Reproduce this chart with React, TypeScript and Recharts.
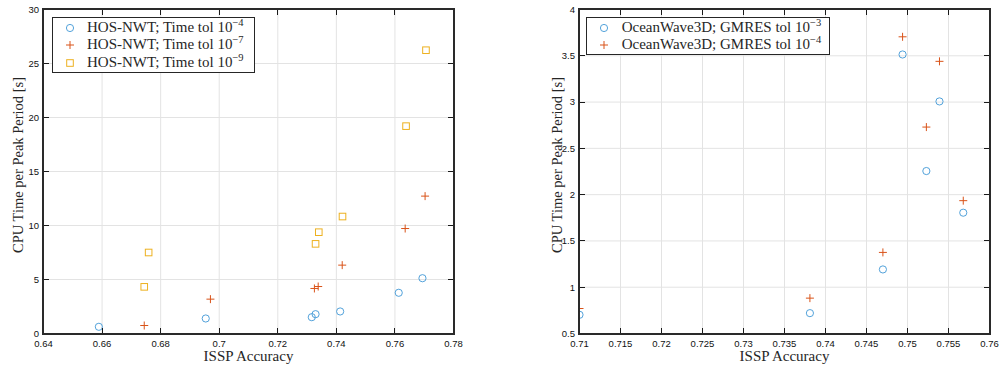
import React from "react";
import { ScatterChart, Scatter, XAxis, YAxis, CartesianGrid, Legend } from "recharts";

// HOS-NWT runs (left panel)
const hosTol4X = [0.6589, 0.6954, 0.7316, 0.7329, 0.7413, 0.7613, 0.7694];
const hosTol4Y = [0.62, 1.39, 1.51, 1.79, 2.04, 3.77, 5.12];
const hosTol7X = [0.6744, 0.697, 0.7325, 0.7338, 0.742, 0.7635, 0.7703];
const hosTol7Y = [0.74, 3.18, 4.17, 4.35, 6.33, 9.72, 12.72];
const hosTol9X = [0.6744, 0.6759, 0.7329, 0.734, 0.7421, 0.7638, 0.7706];
const hosTol9Y = [4.32, 7.5, 8.3, 9.38, 10.83, 19.2, 26.23];

// OceanWave3D runs (right panel)
const owX = [0.71, 0.7381, 0.747, 0.7568, 0.7523, 0.7539, 0.7494];
const owTol3Y = [0.702, 0.72, 1.192, 1.805, 2.255, 3.007, 3.514];
const owTol4Y = [0.77, 0.882, 1.376, 1.935, 2.73, 3.44, 3.705];

const leftXTicks = [0.64, 0.66, 0.68, 0.7, 0.72, 0.74, 0.76, 0.78];
const leftYTicks = [0, 5, 10, 15, 20, 25, 30];
const rightXTicks = [0.71, 0.715, 0.72, 0.725, 0.73, 0.735, 0.74, 0.745, 0.75, 0.755, 0.76];
const rightYTicks = [0.5, 1, 1.5, 2, 2.5, 3, 3.5, 4];

const BLUE = "#3f97d6";
const RED = "#D95319";
const YELLOW = "#EDB120";
const AX = "#262626";
const GRID = "#e3e3e3";
const SERIF = "'Liberation Serif', 'Times New Roman', serif";
const SANS = "'Liberation Sans', Arial, sans-serif";

const PLOT_TOP = 9.5;
const PLOT_BOTTOM = 333.5;

const pts = (xs: number[], ys: number[]) => xs.map((x, i) => ({ x, y: ys[i] }));
const inner = (t: number[]) => t.slice(1, -1);
const fmt = (v: number) => String(Number(v.toFixed(3)));

// markers
const CircleMark = (p: any) => (
  <circle cx={p.cx} cy={p.cy} r={3.6} fill="none" stroke={BLUE} strokeWidth={0.9} />
);
const PlusMark = (p: any) => (
  <g stroke={RED} strokeWidth={1}>
    <line x1={p.cx - 4} y1={p.cy} x2={p.cx + 4} y2={p.cy} />
    <line x1={p.cx} y1={p.cy - 4} x2={p.cx} y2={p.cy + 4} />
  </g>
);
const SquareMark = (p: any) => (
  <rect x={p.cx - 3.3} y={p.cy - 3.3} width={6.6} height={6.6} fill="none" stroke={YELLOW} strokeWidth={1} />
);

const Sup = ({ children }: { children: React.ReactNode }) => (
  <span style={{ fontSize: "0.7em", position: "relative", top: "-0.55em" }}>{children}</span>
);

type LegendItem = { mark: "circle" | "plus" | "square"; text: string; exp: string };

const LegendBox = ({ items, width, height, markX, textX }: { items: LegendItem[]; width: number; height: number; markX: number; textX: number }) => (
  <div
    style={{
      width,
      height,
      boxSizing: "border-box",
      border: `1px solid ${AX}`,
      background: "#fff",
      paddingTop: 0.5,
      fontFamily: SERIF,
      fontSize: 15,
      color: AX,
    }}
  >
    {items.map((it) => (
      <div key={it.text + it.exp} style={{ height: 17.5, position: "relative", whiteSpace: "nowrap" }}>
        <svg width={12} height={12} style={{ position: "absolute", left: markX - 7, top: 3 }}>
          {it.mark === "circle" && <CircleMark cx={6} cy={6} />}
          {it.mark === "plus" && <PlusMark cx={6} cy={6} />}
          {it.mark === "square" && <SquareMark cx={6} cy={6} />}
        </svg>
        <span style={{ position: "absolute", left: textX - 1, lineHeight: "17.5px", top: 0 }}>
          {it.text}
          <Sup>{it.exp}</Sup>
        </span>
      </div>
    ))}
  </div>
);

const leftItems: LegendItem[] = [
  { mark: "circle", text: "HOS-NWT; Time tol 10", exp: "\u22124" },
  { mark: "plus", text: "HOS-NWT; Time tol 10", exp: "\u22127" },
  { mark: "square", text: "HOS-NWT; Time tol 10", exp: "\u22129" },
];
const rightItems: LegendItem[] = [
  { mark: "circle", text: "OceanWave3D; GMRES tol 10", exp: "\u22123" },
  { mark: "plus", text: "OceanWave3D; GMRES tol 10", exp: "\u22124" },
];

const XTick = (p: any) => (
  <text x={p.x} y={347} textAnchor="middle" fill="#111" fontSize={9.5} fontFamily={SANS}>
    {fmt(p.payload.value)}
  </text>
);

const makeYTick = (plotLeft: number) => (p: any) => (
  <text x={plotLeft - 4.5} y={p.y + 3.4} textAnchor="end" fill="#111" fontSize={9.5} fontFamily={SANS}>
    {fmt(p.payload.value)}
  </text>
);

// MATLAB-style box with inward ticks, laid over the plot area
function Frame(props: { plotLeft: number; plotRight: number; xTicks: number[]; yTicks: number[]; xDomain: [number, number]; yDomain: [number, number] }) {
  const L = props.plotLeft - 0.5;
  const R = props.plotRight - 0.5;
  const T = PLOT_TOP - 0.5;
  const B = PLOT_BOTTOM - 0.5;
  const sx = (v: number) => L + ((v - props.xDomain[0]) / (props.xDomain[1] - props.xDomain[0])) * (R - L);
  const sy = (v: number) => B - ((v - props.yDomain[0]) / (props.yDomain[1] - props.yDomain[0])) * (B - T);
  const tick = (left: number, top: number, w: number, h: number, k: string) => (
    <div key={k} style={{ position: "absolute", left, top, width: w, height: h, background: "#1a1a1a" }} />
  );
  return (
    <div style={{ position: "absolute", left: 0, top: 0, width: "100%", height: "100%", pointerEvents: "none", zIndex: 5 }}>
      <div
        style={{
          position: "absolute",
          left: L - 1,
          top: T - 1,
          width: R - L + 3,
          height: B - T + 3,
          boxSizing: "border-box",
          border: "2px solid #2a2a2a",
        }}
      />
      {inner(props.xTicks).map((t) => [
        tick(Math.round(sx(t)), B - 5, 1, 5, "xb" + t),
        tick(Math.round(sx(t)), T + 1, 1, 5, "xt" + t),
      ])}
      {inner(props.yTicks).map((t) => [
        tick(L + 1, Math.round(sy(t)), 5, 1, "yl" + t),
        tick(R - 5, Math.round(sy(t)), 5, 1, "yr" + t),
      ])}
    </div>
  );
}

function Panel(props: {
  left: number;
  width: number;
  yAxisW: number;
  xTicks: number[];
  yTicks: number[];
  xDomain: [number, number];
  yDomain: [number, number];
  series: { data: { x: number; y: number }[]; shape: any; name: string }[];
  yLabelX: number;
  legend: React.ReactNode;
  legendLeft: number;
}) {
  const plotLeft = props.yAxisW;
  const plotRight = props.width - 9.5;
  const xMid = (plotLeft + plotRight) / 2;
  return (
    <div style={{ position: "absolute", left: props.left, top: 0, width: props.width, height: 369 }}>
      <ScatterChart
        width={props.width}
        height={369}
        margin={{ top: PLOT_TOP, right: 9.5, bottom: 0, left: 0 }}
      >
        <CartesianGrid stroke={GRID} strokeWidth={1} horizontalValues={inner(props.yTicks)} verticalValues={inner(props.xTicks)} />
        <XAxis
          dataKey="x"
          type="number"
          domain={props.xDomain}
          ticks={props.xTicks}
          allowDataOverflow
          height={369 - PLOT_BOTTOM}
          tickSize={0}
          axisLine={false}
          tickLine={false}
          tick={XTick}
          interval={0}
          label={{
            content: () => (
              <text x={xMid} y={361} textAnchor="middle" fontFamily={SERIF} fontSize={15} fill={AX}>
                ISSP Accuracy
              </text>
            ),
          }}
        />
        <YAxis
          dataKey="y"
          type="number"
          domain={props.yDomain}
          ticks={props.yTicks}
          allowDataOverflow
          width={props.yAxisW}
          tickSize={0}
          axisLine={false}
          tickLine={false}
          tick={makeYTick(plotLeft)}
          interval={0}
          label={{
            content: () => (
              <text
                x={props.yLabelX}
                y={165}
                transform={`rotate(-90 ${props.yLabelX} 165)`}
                textAnchor="middle"
                dominantBaseline="central"
                fontFamily={SERIF}
                fontSize={14.5}
                fill={AX}
              >
                CPU Time per Peak Period [s]
              </text>
            ),
          }}
        />
        {props.series.map((s) => (
          <Scatter key={s.name} name={s.name} data={s.data} shape={s.shape} isAnimationActive={false} />
        ))}
        <Legend
          layout="vertical"
          align="center"
          verticalAlign="middle"
          wrapperStyle={{ left: props.legendLeft, top: 17, width: "auto", height: "auto", zIndex: 6 }}
          content={() => props.legend}
        />
      </ScatterChart>
      <Frame
        plotLeft={plotLeft}
        plotRight={plotRight}
        xTicks={props.xTicks}
        yTicks={props.yTicks}
        xDomain={props.xDomain}
        yDomain={props.yDomain}
      />
    </div>
  );
}

export default function App() {
  return (
    <div style={{ position: "absolute", left: 0, top: 0, width: 999, height: 369, background: "#fff" }}>
      <Panel
        left={0}
        width={463}
        yAxisW={43.5}
        xTicks={leftXTicks}
        yTicks={leftYTicks}
        xDomain={[0.64, 0.78]}
        yDomain={[0, 30]}
        yLabelX={18}
        legendLeft={52}
        legend={<LegendBox items={leftItems} width={203} height={56} markX={17.5} textX={35} />}
        series={[
          { name: "tol4", data: pts(hosTol4X, hosTol4Y), shape: CircleMark },
          { name: "tol7", data: pts(hosTol7X, hosTol7Y), shape: PlusMark },
          { name: "tol9", data: pts(hosTol9X, hosTol9Y), shape: SquareMark },
        ]}
      />
      <Panel
        left={520}
        width={479}
        yAxisW={59.5}
        xTicks={rightXTicks}
        yTicks={rightYTicks}
        xDomain={[0.71, 0.76]}
        yDomain={[0.5, 4]}
        yLabelX={37}
        legendLeft={66}
        legend={<LegendBox items={rightItems} width={244} height={38} markX={18} textX={35.7} />}
        series={[
          { name: "gm3", data: pts(owX, owTol3Y), shape: CircleMark },
          { name: "gm4", data: pts(owX, owTol4Y), shape: PlusMark },
        ]}
      />
    </div>
  );
}
